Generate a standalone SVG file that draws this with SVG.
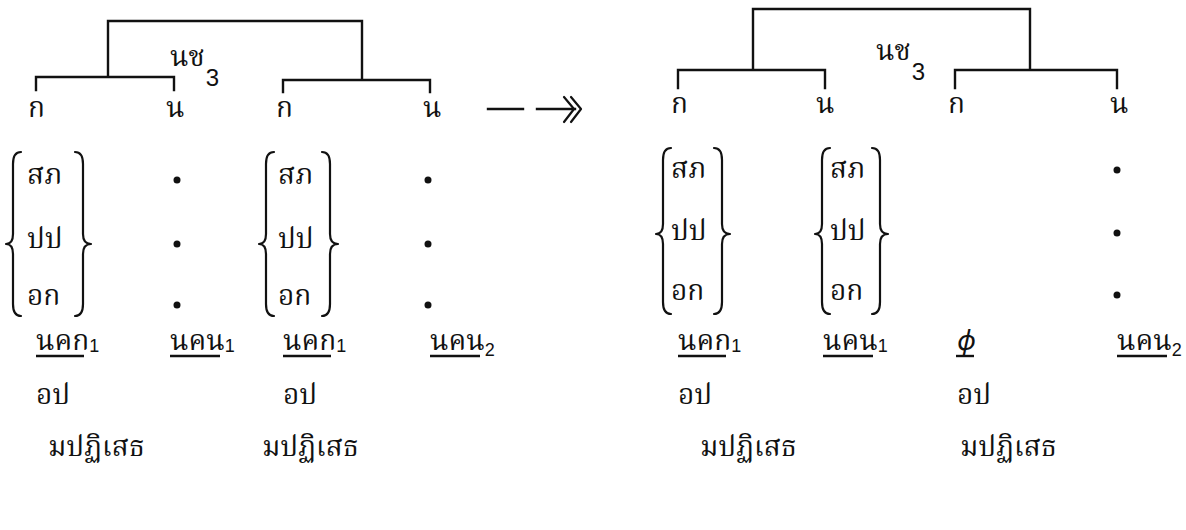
<svg xmlns="http://www.w3.org/2000/svg" width="1186" height="530" viewBox="0 0 1186 530">
<style>
text{font-family:"Noto Serif Thai","Noto Sans Thai Looped","Loma","Garuda","Norasi","Noto Sans Thai","Noto Sans",sans-serif;fill:#111;font-size:28px}
.sub{font-family:"Liberation Sans",sans-serif;font-size:18px}
.s3{font-family:"Liberation Sans",sans-serif;font-size:24px}
.ln{stroke:#111;stroke-width:2.4;fill:none;stroke-linecap:square}
.br{stroke:#111;stroke-width:2.2;fill:none;stroke-linecap:round;stroke-linejoin:round}
.ul{stroke:#111;stroke-width:2.4}
.dot{fill:#111}
</style>
<rect width="1186" height="530" fill="#fff"/>
<g id="connectors">
<path class="ln" d="M36 90 V77 H174 V90 M108 77 V21 H362 V80 M283 92 V80 H430 V92"/>
<path class="ln" d="M678 88 V70 H825 V88 M753 70 V9 H1030 V70 M955 88 V70 H1117 V88"/>
<path class="ln" d="M488 109 H523 M537 109 H575"/>
<path class="br" d="M564 97 L574 109 L564 122 M571 97 L581 109 L571 122"/>
</g>
<g id="tree-left">
<text x="170" y="66">นช<tspan class="s3" dx="1" dy="20">3</tspan></text>
<text x="28" y="117">ก</text><text x="166" y="117">น</text>
<text x="276" y="117">ก</text><text x="423" y="117">น</text>
</g>
<g id="tree-right">
<text x="876" y="60">นช<tspan class="s3" dx="1" dy="20">3</tspan></text>
<text x="671" y="113">ก</text><text x="816" y="113">น</text>
<text x="948" y="113">ก</text><text x="1110" y="113">น</text>
</g>
<g id="col-l1">
<path class="br" d="M21 152 Q13 152 13 164 V234 Q13 244 6 244 Q13 244 13 254 V304 Q13 316 21 316"/>
<path class="br" d="M75 152 Q83 152 83 164 V234 Q83 244 91 244 Q83 244 83 254 V304 Q83 316 75 316"/>
<text x="27" y="184">สภ</text><text x="27" y="248">ปป</text><text x="27" y="305">อก</text>
<text x="36" y="350">นคก<tspan class="sub" dy="2">1</tspan></text>
<line class="ul" x1="36" y1="356" x2="84" y2="356"/>
<text x="36" y="404">อป</text>
<text x="48" y="456">มปฏิเสธ</text>
</g>
<g id="col-l2">
<circle class="dot" cx="177" cy="180" r="3.5"/><circle class="dot" cx="177" cy="244" r="3.5"/><circle class="dot" cx="177" cy="305" r="3.5"/>
<text x="170" y="350">นคน<tspan class="sub" dy="2">1</tspan></text>
<line class="ul" x1="170" y1="356" x2="220" y2="356"/>
</g>
<g id="col-l3">
<path class="br" d="M274 152 Q266 152 266 164 V234 Q266 244 259 244 Q266 244 266 254 V304 Q266 316 274 316"/>
<path class="br" d="M322 152 Q330 152 330 164 V234 Q330 244 338 244 Q330 244 330 254 V304 Q330 316 322 316"/>
<text x="278" y="184">สภ</text><text x="278" y="248">ปป</text><text x="278" y="305">อก</text>
<text x="283" y="350">นคก<tspan class="sub" dy="2">1</tspan></text>
<line class="ul" x1="283" y1="356" x2="331" y2="356"/>
<text x="283" y="404">อป</text>
<text x="262" y="456">มปฏิเสธ</text>
</g>
<g id="col-l4">
<circle class="dot" cx="428" cy="180" r="3.5"/><circle class="dot" cx="428" cy="244" r="3.5"/><circle class="dot" cx="428" cy="305" r="3.5"/>
<text x="430" y="350">นคน<tspan class="sub" dy="6">2</tspan></text>
<line class="ul" x1="430" y1="356" x2="480" y2="356"/>
</g>
<g id="col-r1">
<path class="br" d="M671 148 Q663 148 663 160 V224 Q663 234 656 234 Q663 234 663 244 V302 Q663 314 671 314"/>
<path class="br" d="M714 148 Q722 148 722 160 V224 Q722 234 730 234 Q722 234 722 244 V302 Q722 314 714 314"/>
<text x="671" y="178">สภ</text><text x="671" y="240">ปป</text><text x="671" y="300">อก</text>
<text x="678" y="350">นคก<tspan class="sub" dy="2">1</tspan></text>
<line class="ul" x1="678" y1="356" x2="726" y2="356"/>
<text x="678" y="404">อป</text>
<text x="700" y="456">มปฏิเสธ</text>
</g>
<g id="col-r2">
<path class="br" d="M830 148 Q822 148 822 160 V224 Q822 234 815 234 Q822 234 822 244 V302 Q822 314 830 314"/>
<path class="br" d="M872 148 Q880 148 880 160 V224 Q880 234 888 234 Q880 234 880 244 V302 Q880 314 872 314"/>
<text x="830" y="178">สภ</text><text x="830" y="240">ปป</text><text x="830" y="300">อก</text>
<text x="823" y="350">นคน<tspan class="sub" dy="2">1</tspan></text>
<line class="ul" x1="823" y1="356" x2="873" y2="356"/>
</g>
<g id="col-r3">
<text x="957" y="350" font-style="italic" font-family="Liberation Serif, serif">ϕ</text>
<line class="ul" x1="956" y1="356" x2="974" y2="356"/>
<text x="957" y="404">อป</text>
<text x="960" y="456">มปฏิเสธ</text>
</g>
<g id="col-r4">
<circle class="dot" cx="1117" cy="170" r="3.5"/><circle class="dot" cx="1117" cy="233" r="3.5"/><circle class="dot" cx="1117" cy="295" r="3.5"/>
<text x="1117" y="350">นคน<tspan class="sub" dy="6">2</tspan></text>
<line class="ul" x1="1117" y1="356" x2="1167" y2="356"/>
</g>
</svg>
